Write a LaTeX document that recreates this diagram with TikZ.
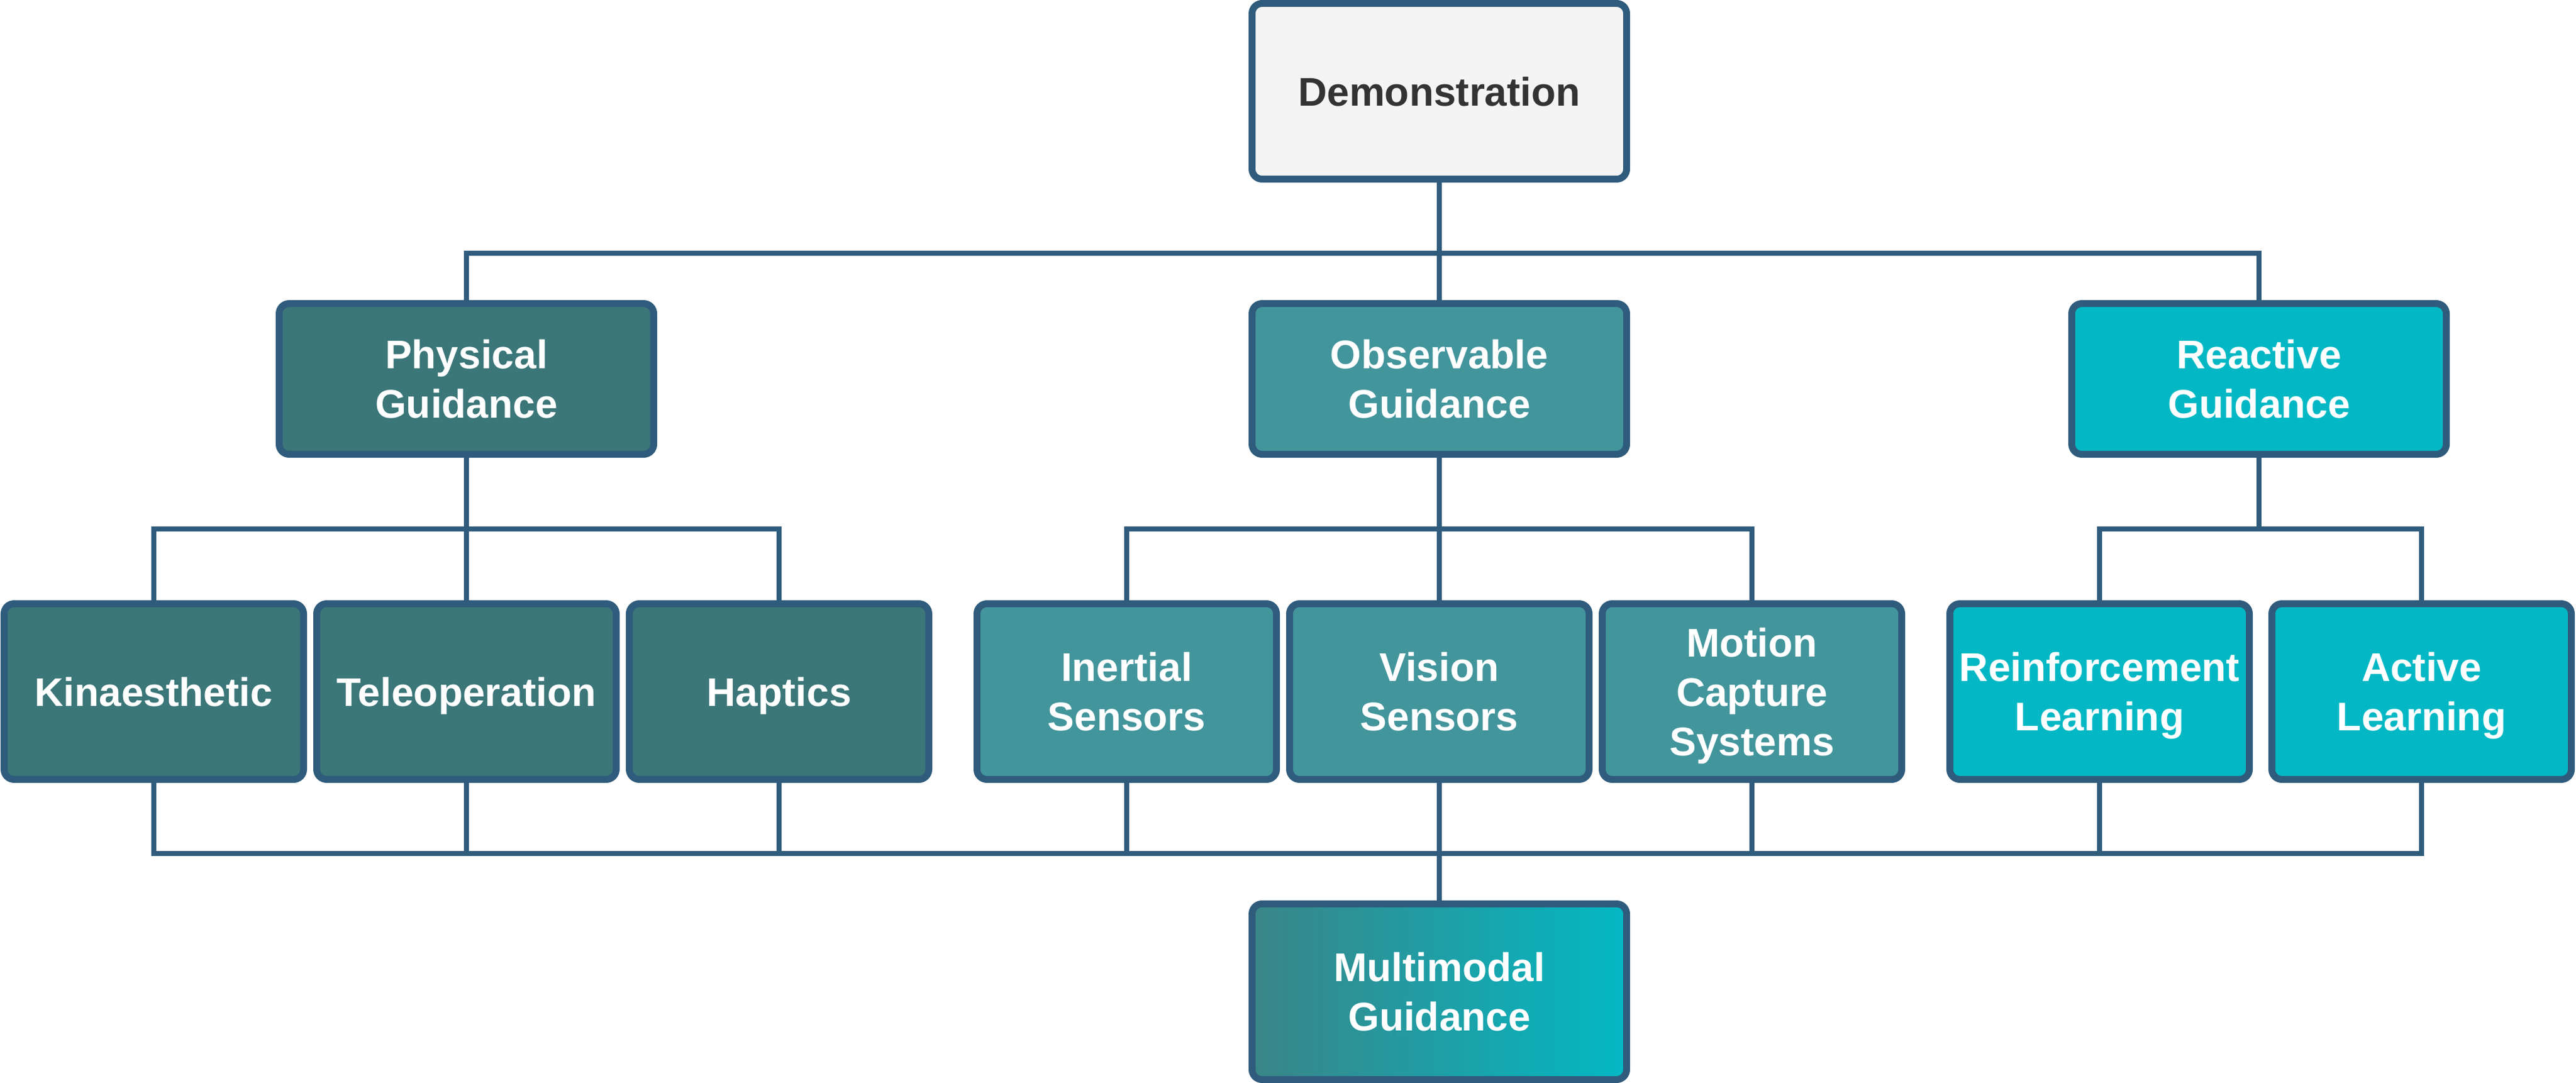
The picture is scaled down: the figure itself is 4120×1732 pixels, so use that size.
\documentclass[tikz,border=0pt]{standalone}
\usepackage{fontspec}
\setmainfont{Liberation Sans}
\definecolor{bordc}{HTML}{2F5B7C}
\definecolor{physc}{HTML}{3B7678}
\definecolor{obsc}{HTML}{43959C}
\definecolor{reactc}{HTML}{03B8C4}
\definecolor{democ}{HTML}{F4F4F4}
\definecolor{demotxt}{HTML}{333333}
\definecolor{multl}{HTML}{3A8587}
\tikzset{
  boxbase/.style={draw=bordc, line width=2.75pt, rounded corners=4pt, inner sep=0pt,
    align=center, text=white, text depth=0pt, font=\fontsize{16pt}{19.75pt}\selectfont\bfseries},
  bigbox/.style={boxbase, minimum width=599*0.25pt, minimum height=281*0.25pt},
  midbox/.style={boxbase, minimum width=599*0.25pt, minimum height=241*0.25pt},
  smallbox/.style={boxbase, minimum width=479*0.25pt, minimum height=281*0.25pt},
  conn/.style={draw=bordc, line width=1.9pt, line join=miter}
}
\begin{document}
\begin{tikzpicture}[x=0.25pt,y=-0.25pt]
\useasboundingbox (0,0) rectangle (4120,1732);
% top
\node[bigbox, fill=democ, text=demotxt] (demo) at (2302,146) {Demonstration};
% second row
\node[midbox, fill=physc] (phys) at (746,606) {Physical\\Guidance};
\node[midbox, fill=obsc] (obs) at (2302,606) {Observable\\Guidance};
\node[midbox, fill=reactc] (react) at (3613,606) {Reactive\\Guidance};
% third row
\node[smallbox, fill=physc] (kin) at (246,1106) {Kinaesthetic};
\node[smallbox, fill=physc] (tele) at (746,1106) {Teleoperation};
\node[smallbox, fill=physc] (hap) at (1246,1106) {Haptics};
\node[smallbox, fill=obsc] (iner) at (1802,1106) {Inertial\\Sensors};
\node[smallbox, fill=obsc] (vis) at (2302,1106) {Vision\\Sensors};
\node[smallbox, fill=obsc] (mocap) at (2802,1106) {Motion\\Capture\\Systems};
\node[smallbox, fill=reactc] (rl) at (3358,1106) {Reinforcement\\Learning};
\node[smallbox, fill=reactc] (al) at (3873,1106) {Active\\Learning};
% bottom
\node[bigbox, left color=multl, right color=reactc] (multi) at (2302,1586) {Multimodal\\Guidance};
% bus coordinates
\coordinate (bA) at (0,405);
\coordinate (bB) at (0,846);
\coordinate (bC) at (0,1365);
% level 1
\draw[conn] (demo.south) -- (demo.south |- bA);
\draw[conn] (phys.north) -- (phys.north |- bA) -- (react.north |- bA) -- (react.north);
\draw[conn] (obs.north) -- (obs.north |- bA);
% level 2
\draw[conn] (phys.south) -- (phys.south |- bB);
\draw[conn] (kin.north) -- (kin.north |- bB) -- (hap.north |- bB) -- (hap.north);
\draw[conn] (tele.north) -- (tele.north |- bB);
\draw[conn] (obs.south) -- (obs.south |- bB);
\draw[conn] (iner.north) -- (iner.north |- bB) -- (mocap.north |- bB) -- (mocap.north);
\draw[conn] (vis.north) -- (vis.north |- bB);
\draw[conn] (react.south) -- (react.south |- bB);
\draw[conn] (rl.north) -- (rl.north |- bB) -- (al.north |- bB) -- (al.north);
% level 3
\draw[conn] (kin.south) -- (kin.south |- bC) -- (al.south |- bC) -- (al.south);
\draw[conn] (tele.south) -- (tele.south |- bC);
\draw[conn] (hap.south) -- (hap.south |- bC);
\draw[conn] (iner.south) -- (iner.south |- bC);
\draw[conn] (vis.south) -- (vis.south |- bC);
\draw[conn] (mocap.south) -- (mocap.south |- bC);
\draw[conn] (rl.south) -- (rl.south |- bC);
\draw[conn] (multi.north) -- (multi.north |- bC);
\end{tikzpicture}
\end{document}
